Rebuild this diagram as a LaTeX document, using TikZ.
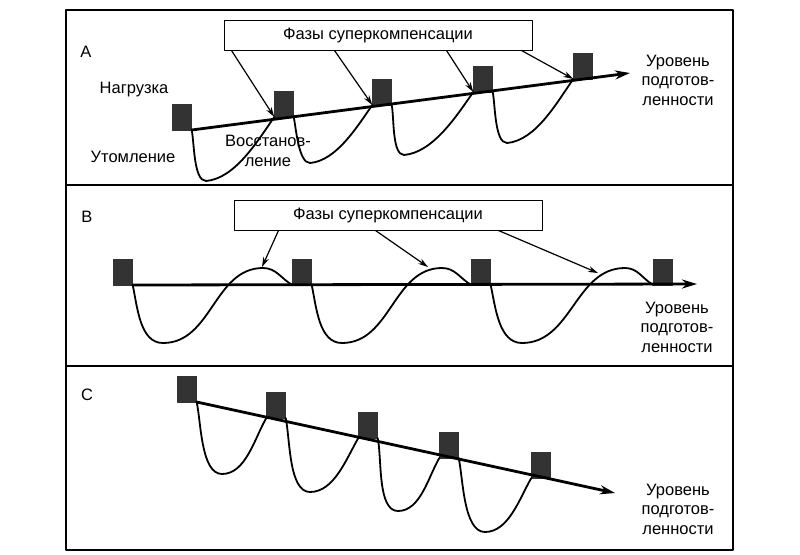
\documentclass[tikz,border=0pt]{standalone}
\usepackage{fontspec}
\setmainfont{Liberation Sans}
\usetikzlibrary{arrows.meta}
\begin{document}
\begin{tikzpicture}[x=1pt, y=-1pt, line join=round, line cap=round,
	font=\fontsize{16.5}{19.5}\selectfont, >={Stealth[length=10pt,width=6pt]},
	load/.style={fill=black!80, draw=black!80, minimum width=19pt, minimum height=26pt, inner sep=0pt, anchor=south},
	trend/.style={line width=2.8pt, -{Stealth[length=15pt,width=9pt]}},
	curve/.style={line width=1.8pt},
	pointer/.style={line width=1.2pt, ->},
	phase/.style={draw, line width=1pt, minimum width=308pt, minimum height=30pt, inner sep=0pt},
	panel/.style={line width=1.3pt},
	levtext/.style={align=center}]
	\useasboundingbox (0,0) rectangle (800,554);
	\draw[panel] (66,10) rectangle (733,185);
	\draw[panel] (66,185) rectangle (733,366);
	\draw[panel] (66,366) rectangle (733,550);
	% A
	\node (lA) at (86,52) {A};
	\node[phase] (phA) at (378,35) {Фазы суперкомпенсации};
	\foreach \n/\x/\y in {1/182/130, 2/284/117, 3/382/105, 4/483/92, 5/583/79}
	\node[load] (a\n) at (\x,\y) {};
	\coordinate (endA) at (630,73);
	\draw[trend] (a1.south east) -- (endA);
	\foreach \i/\j/\mx/\my in {1/2/206/181, 2/3/310/163, 3/4/404/155, 4/5/507/143}
	\draw[curve] (a\i.south east) to[out=-78,in=180,looseness=0.6] (\mx,\my) to[out=5,in=-125,looseness=0.8] (a\j.south west);
	\foreach \i/\dx in {2/8, 3/111, 4/223, 5/298}
	\draw[pointer] ([xshift=\dx pt]phA.south west) -- (a\i.south west);
	\node (load) at (134,90) {Нагрузка};
	\node (fatigue) at (133,157) {Утомление};
	\node[levtext] (recovery) at (268,151) {Восстанов-\\ление};
	\node[levtext] (levA) at (678,80) {Уровень\\подготов-\\ленности};
	% B
	\node (lB) at (87,217) {B};
	\node[phase] (phB) at (388,215) {Фазы суперкомпенсации};
	\foreach \n/\x in {1/123, 2/302, 3/481, 4/663}
	\node[load] (b\n) at (\x,285) {};
	\coordinate (endB) at (697,284);
	\draw[trend] (b1.south east) -- (endB);
	\foreach \i/\j/\mx/\px in {1/2/163/263, 2/3/342/442, 3/4/522/625}
	\draw[curve] (b\i.south east) to[out=-78,in=180,looseness=0.9] (\mx,343) to[out=0,in=180] (\px,268) to[out=0,in=150] (b\j.south west);
	\coordinate (tB1) at (262,267);
	\coordinate (tB2) at (428,267);
	\coordinate (tB3) at (598,273);
	\foreach \i/\dx in {1/45, 2/142, 3/265}
	\draw[pointer] ([xshift=\dx pt]phB.south west) -- (tB\i);
	\node[levtext] (levB) at (677,327) {Уровень\\подготов-\\ленности};
	% C
	\node (lC) at (87,395) {C};
	\foreach \n/\x/\y in {1/187/402, 2/276/418, 3/368/438, 4/449/458, 5/541/478}
	\node[load] (c\n) at (\x,\y) {};
	\coordinate (endC) at (615,493);
	\draw[trend] (c1.south east) -- (endC);
	\foreach \i/\j/\mx/\my in {1/2/222/474, 2/3/310/492, 3/4/398/511, 4/5/485/532}
	\draw[curve] (c\i.south east) to[out=-78,in=180,looseness=0.7] (\mx,\my) to[out=0,in=-120,looseness=0.85] (c\j.south west);
	\node[levtext] (levC) at (678,509) {Уровень\\подготов-\\ленности};
\end{tikzpicture}
\end{document}
